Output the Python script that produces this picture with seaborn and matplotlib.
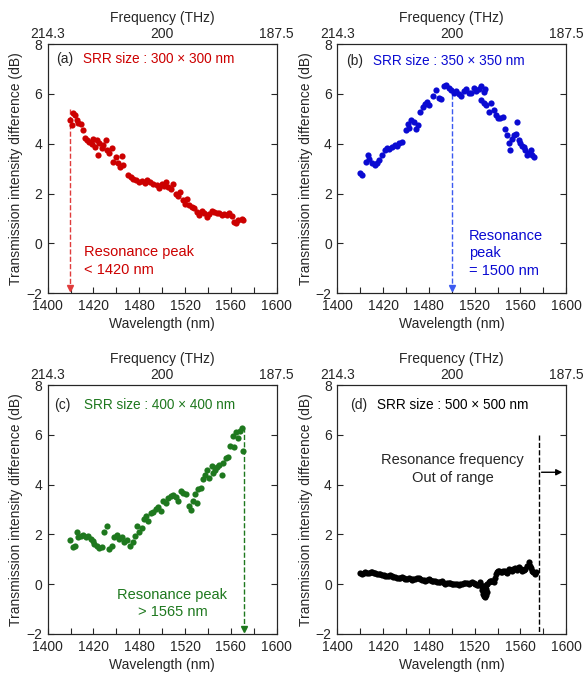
import matplotlib
matplotlib.use("Agg")
import matplotlib.pyplot as plt
import seaborn as sns
import pandas as pd

# (a) SRR 300 x 300 nm
wl_a = [1419.5, 1421.0, 1421.8, 1423.8, 1425.3, 1426.8, 1428.8, 1430.5, 1432.6, 1434.6,
        1436.4, 1438.4, 1439.9, 1441.3, 1442.8, 1444.2, 1445.1, 1447.1, 1448.6, 1450.9,
        1452.1, 1453.8, 1455.9, 1457.3, 1459.6, 1461.7, 1463.1, 1464.6, 1465.5, 1470.4,
        1472.5, 1474.8, 1477.1, 1479.4, 1482.1, 1485.0, 1487.0, 1489.3, 1492.2, 1495.2,
        1497.5, 1499.5, 1501.6, 1503.3, 1505.4, 1507.4, 1509.7, 1512.0, 1514.1, 1515.5,
        1517.9, 1519.9, 1522.0, 1523.7, 1525.7, 1527.8, 1530.1, 1532.4, 1534.5, 1536.5,
        1538.8, 1541.2, 1543.2, 1545.2, 1547.6, 1549.9, 1551.9, 1554.0, 1556.3, 1558.6,
        1560.7, 1562.7, 1564.4, 1566.5, 1569.4, 1570.8]
db_a = [4.95, 4.75, 5.24, 5.15, 4.95, 4.84, 4.81, 4.55, 4.25, 4.14,
        4.08, 3.98, 4.21, 3.88, 4.14, 3.54, 4.01, 3.81, 3.94, 4.14,
        3.74, 3.61, 3.81, 3.27, 3.47, 3.21, 3.07, 3.50, 3.14, 2.74,
        2.67, 2.60, 2.54, 2.47, 2.51, 2.43, 2.56, 2.47, 2.38, 2.34,
        2.24, 2.40, 2.30, 2.47, 2.27, 2.20, 2.40, 1.97, 1.89, 2.07,
        1.73, 1.57, 1.76, 1.53, 1.47, 1.40, 1.26, 1.13, 1.30, 1.20,
        1.06, 1.17, 1.30, 1.26, 1.20, 1.22, 1.13, 1.17, 1.13, 1.22,
        1.09, 0.86, 0.80, 0.93, 0.96, 0.93]

# (b) SRR 350 x 350 nm
wl_b = [1420.1, 1421.5, 1425.0, 1426.8, 1428.0, 1430.3, 1432.6, 1434.6, 1436.1, 1439.0,
        1441.3, 1443.4, 1445.4, 1447.7, 1450.1, 1452.1, 1454.1, 1456.5, 1460.0, 1461.7,
        1462.9, 1464.6, 1466.7, 1468.7, 1470.5, 1472.5, 1474.5, 1476.3, 1478.3, 1480.4,
        1483.3, 1486.2, 1488.5, 1490.8, 1492.9, 1494.9, 1497.2, 1499.6, 1501.6, 1503.6,
        1506.0, 1508.3, 1510.3, 1512.4, 1514.7, 1517.0, 1519.1, 1521.1, 1523.4, 1525.8,
        1527.8, 1529.2, 1525.8, 1527.8, 1529.8, 1532.2, 1534.5, 1536.5, 1538.6, 1540.3,
        1542.4, 1544.4, 1546.7, 1548.2, 1549.6, 1551.1, 1552.5, 1554.0, 1556.0, 1557.2,
        1558.4, 1559.8, 1561.3, 1562.7, 1564.2, 1565.6, 1567.1, 1569.4, 1571.5, 1570.0]
db_b = [2.83, 2.74, 3.27, 3.54, 3.37, 3.21, 3.14, 3.23, 3.34, 3.54,
        3.74, 3.81, 3.77, 3.88, 3.94, 3.90, 4.01, 4.08, 4.57, 4.79,
        4.65, 4.95, 4.88, 4.61, 4.75, 5.28, 5.48, 5.59, 5.68, 5.55,
        5.91, 6.15, 5.82, 5.78, 6.31, 6.35, 6.26, 6.15, 6.05, 6.13,
        6.00, 5.91, 6.13, 6.18, 6.02, 6.05, 6.22, 6.13, 6.18, 6.31,
        6.09, 6.18, 5.75, 5.62, 5.55, 5.28, 5.64, 5.35, 5.15, 5.02,
        5.05, 5.08, 4.61, 4.34, 4.01, 3.74, 4.21, 4.34, 4.38, 4.88,
        4.14, 4.01, 3.90, 3.85, 3.74, 3.54, 3.61, 3.74, 3.45, 3.54]

# (c) SRR 400 x 400 nm
wl_c = [1419.5, 1421.8, 1423.8, 1425.3, 1426.8, 1428.8, 1431.1, 1433.4, 1435.5, 1437.5,
        1439.3, 1440.4, 1442.8, 1445.1, 1447.1, 1449.2, 1451.5, 1453.8, 1455.9, 1457.9,
        1460.2, 1462.6, 1464.6, 1466.6, 1469.0, 1471.9, 1474.2, 1476.2, 1478.3, 1480.0,
        1482.1, 1484.1, 1485.9, 1487.9, 1489.9, 1492.3, 1494.6, 1496.6, 1498.7, 1501.0,
        1503.3, 1505.4, 1507.4, 1509.7, 1512.0, 1514.1, 1516.1, 1518.4, 1520.8, 1523.7,
        1524.9, 1526.6, 1528.6, 1530.1, 1531.6, 1533.6, 1535.3, 1537.4, 1539.4, 1541.2,
        1543.2, 1544.7, 1546.1, 1547.6, 1549.9, 1551.9, 1553.4, 1555.7, 1557.7, 1559.2,
        1561.5, 1562.7, 1564.4, 1566.5, 1567.9, 1569.4, 1570.3]
db_c = [1.78, 1.48, 1.52, 2.08, 1.88, 1.94, 1.97, 1.88, 1.92, 1.81,
        1.75, 1.61, 1.55, 1.44, 1.48, 2.08, 2.34, 1.41, 1.55, 1.88,
        1.97, 1.81, 1.88, 1.71, 1.78, 1.55, 1.68, 1.94, 2.34, 2.08,
        2.24, 2.61, 2.74, 2.54, 2.85, 2.90, 3.01, 3.12, 2.94, 3.34,
        3.28, 3.47, 3.54, 3.57, 3.52, 3.34, 3.74, 3.67, 3.61, 3.14,
        2.98, 3.34, 3.61, 3.28, 3.81, 3.87, 4.21, 4.37, 4.61, 4.27,
        4.74, 4.47, 4.61, 4.71, 4.80, 4.37, 4.87, 5.07, 5.11, 5.57,
        5.96, 5.51, 6.10, 5.87, 6.17, 6.27, 5.34]

# (d) SRR 500 x 500 nm
wl_d = [1420.0, 1421.5, 1423.0, 1424.5, 1426.0, 1427.4, 1429.0, 1430.3, 1432.0, 1433.2,
        1435.0, 1436.1, 1437.5, 1439.0, 1440.5, 1441.9, 1443.5, 1444.8, 1446.0, 1447.7,
        1449.0, 1450.7, 1452.0, 1453.6, 1455.0, 1456.5, 1458.0, 1459.4, 1461.0, 1462.3,
        1464.0, 1465.2, 1466.5, 1468.1, 1469.5, 1471.0, 1472.5, 1474.0, 1475.5, 1476.9,
        1478.3, 1479.8, 1481.2, 1482.7, 1484.0, 1485.6, 1487.0, 1488.5, 1490.0, 1491.4,
        1493.0, 1494.3, 1495.8, 1497.2, 1498.6, 1500.1, 1501.5, 1503.1, 1504.5, 1506.0,
        1507.5, 1508.9, 1510.3, 1511.8, 1513.3, 1514.7, 1516.0, 1517.6, 1519.0, 1520.5,
        1521.7, 1522.8, 1524.0, 1524.9, 1525.6, 1526.3, 1526.6, 1526.9, 1527.8, 1528.7,
        1529.7, 1530.7, 1530.2, 1529.8, 1531.0, 1532.2, 1533.4, 1534.5, 1535.5, 1536.5,
        1537.5, 1538.4, 1539.4, 1540.5, 1541.5, 1542.7, 1543.8, 1545.0, 1546.1, 1547.2,
        1548.2, 1549.2, 1550.2, 1551.4, 1552.5, 1553.7, 1554.9, 1555.9, 1556.9, 1558.0,
        1559.0, 1560.2, 1561.3, 1562.8, 1564.2, 1565.7, 1567.1, 1568.5, 1569.3, 1570.0,
        1571.2, 1572.3, 1573.5]
db_d = [0.45, 0.41, 0.47, 0.48, 0.44, 0.45, 0.50, 0.51, 0.47, 0.45,
        0.43, 0.41, 0.40, 0.37, 0.38, 0.35, 0.33, 0.32, 0.36, 0.35,
        0.31, 0.28, 0.27, 0.24, 0.27, 0.28, 0.24, 0.21, 0.22, 0.24,
        0.21, 0.19, 0.20, 0.21, 0.25, 0.24, 0.21, 0.19, 0.17, 0.15,
        0.18, 0.21, 0.18, 0.15, 0.13, 0.11, 0.09, 0.08, 0.10, 0.11,
        0.06, 0.01, 0.03, 0.05, 0.03, 0.01, 0.02, 0.01, -0.01, -0.03,
        -0.01, 0.01, 0.03, 0.05, 0.03, 0.01, 0.05, 0.08, 0.04, 0.01,
        -0.02, -0.05, 0.02, 0.08, -0.02, -0.12, -0.25, -0.39, -0.47, -0.52,
        -0.44, -0.32, -0.18, -0.05, 0.02, 0.08, 0.12, 0.15, 0.11, 0.08,
        0.25, 0.42, 0.51, 0.53, 0.55, 0.51, 0.48, 0.52, 0.55, 0.50,
        0.45, 0.53, 0.61, 0.58, 0.55, 0.60, 0.64, 0.62, 0.59, 0.64,
        0.68, 0.62, 0.55, 0.58, 0.61, 0.74, 0.88, 0.75, 0.65, 0.55,
        0.48, 0.41, 0.51]

x_ticks = [1400, 1440, 1480, 1520, 1560, 1600]
x_tick_labels = ["1400", "1420", "1480", "1520", "1560", "1600"]
freq_ticks = [1400, 1500, 1600]
freq_labels = ["214.3", "200", "187.5"]
y_ticks = [-2, 0, 2, 4, 6, 8]

sns.set_style("ticks")
plt.rcParams['font.family'] = ['Liberation Sans', 'DejaVu Sans']

panels = [
    dict(wl=wl_a, db=db_a, color="#cc0000", tag="(a)",
         title="SRR size : 300 \u00d7 300 nm", box=[0.0817, 0.5678, 0.392, 0.367]),
    dict(wl=wl_b, db=db_b, color="#0a0ad2", tag="(b)",
         title="SRR size : 350 \u00d7 350 nm", box=[0.5776, 0.5678, 0.392, 0.367]),
    dict(wl=wl_c, db=db_c, color="#1e781e", tag="(c)",
         title="SRR size : 400 \u00d7 400 nm", box=[0.0817, 0.0649, 0.392, 0.367]),
    dict(wl=wl_d, db=db_d, color="black", tag="(d)",
         title="SRR size : 500 \u00d7 500 nm", box=[0.5776, 0.0649, 0.392, 0.367]),
]

fig = plt.figure(figsize=(5.84, 6.78), dpi=100)
axes = []
for p in panels:
    ax = fig.add_axes(p["box"])
    df = pd.DataFrame({"Wavelength": p["wl"], "Diff": p["db"]})
    sns.scatterplot(data=df, x="Wavelength", y="Diff", ax=ax, color=p["color"],
                    s=20, linewidth=0, legend=False, zorder=3)
    ax.set_xlim(1400, 1600)
    ax.set_ylim(-2, 8)
    ax.set_xticks(x_ticks)
    ax.set_xticklabels(x_tick_labels)
    ax.set_xticks(range(1420, 1600, 40), minor=True)
    ax.set_yticks(y_ticks)
    ax.tick_params(axis="both", which="both", direction="in", length=4, width=0.8,
                   labelsize=10, top=False, right=True, pad=4)
    ax.set_xlabel("Wavelength (nm)", fontsize=10, labelpad=3)
    ax.set_ylabel("Transmission intensity difference (dB)", fontsize=10, labelpad=2)
    for s in ax.spines.values():
        s.set_linewidth(0.8)
        s.set_color("#222222")

    # frequency axis on top
    top = ax.twiny()
    top.set_xlim(1400, 1600)
    top.set_xticks(freq_ticks)
    top.set_xticklabels(freq_labels)
    top.tick_params(axis="x", length=0, labelsize=10, pad=2)
    top.set_xlabel("Frequency (THz)", fontsize=10, labelpad=4)
    axes.append(ax)

ax_a, ax_b, ax_c, ax_d = axes
fs = 10.5
fs_title = 9.8

# (a)
ax_a.text(1407, 7.4, "(a)", fontsize=10, va="center", ha="left")
ax_a.text(1431, 7.4, panels[0]["title"], color="#cc0000", fontsize=fs_title, va="center")
ax_a.plot([1419.5, 1419.5], [5.4, -1.85], ls="--", lw=1, color="#e03c3c")
ax_a.plot([1419.5], [-1.8], marker="v", ms=4, color="#e03c3c")
ax_a.text(1432, -0.34, "Resonance peak", color="#cc0000", fontsize=fs, va="center")
ax_a.text(1432, -1.08, "< 1420 nm", color="#cc0000", fontsize=fs, va="center")

# (b)
ax_b.text(1408, 7.33, "(b)", fontsize=10, va="center", ha="left")
ax_b.text(1431, 7.33, panels[1]["title"], color="#0a0ad2", fontsize=fs_title, va="center")
ax_b.plot([1500.5, 1500.5], [6.0, -1.85], ls="--", lw=1, color="#3c5af0")
ax_b.plot([1500.5], [-1.8], marker="v", ms=4, color="#3c5af0")
ax_b.text(1515, 0.29, "Resonance", color="#0a0ad2", fontsize=fs, va="center")
ax_b.text(1515, -0.40, "peak", color="#0a0ad2", fontsize=fs, va="center")
ax_b.text(1515, -1.10, "= 1500 nm", color="#0a0ad2", fontsize=fs, va="center")

# (c)
ax_c.text(1406, 7.2, "(c)", fontsize=10, va="center", ha="left")
ax_c.text(1432, 7.2, panels[2]["title"], color="#1e781e", fontsize=fs_title, va="center")
ax_c.plot([1571.7, 1571.7], [6.3, -1.85], ls="--", lw=1, color="#1e781e")
ax_c.plot([1571.7], [-1.8], marker="v", ms=4, color="#1e781e")
ax_c.text(1509, -0.42, "Resonance peak", color="#1e781e", fontsize=fs, va="center", ha="center")
ax_c.text(1509.5, -1.11, "> 1565 nm", color="#1e781e", fontsize=fs, va="center", ha="center")

# (d)
ax_d.text(1411, 7.2, "(d)", fontsize=10, va="center", ha="left")
ax_d.text(1435, 7.2, panels[3]["title"], color="black", fontsize=fs_title, va="center")
ax_d.plot([1576, 1576], [6.0, -2], ls="--", lw=1, color="black")
ax_d.annotate("", xy=(1599, 4.5), xytext=(1576, 4.5),
              arrowprops=dict(arrowstyle="-|>", color="black", lw=1, mutation_scale=9))
ax_d.text(1500.5, 4.98, "Resonance frequency", fontsize=fs, va="center", ha="center")
ax_d.text(1501, 4.28, "Out of range", fontsize=fs, va="center", ha="center")

fig.savefig("out.png", dpi=100)
